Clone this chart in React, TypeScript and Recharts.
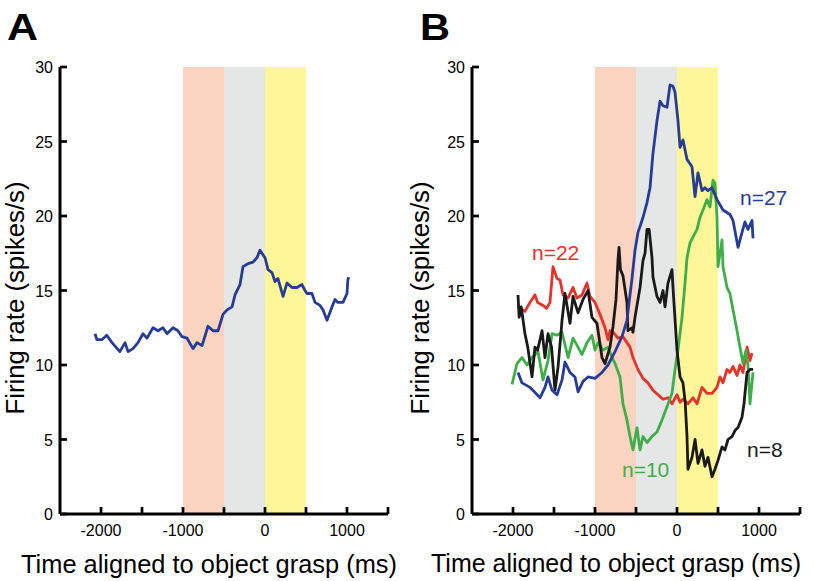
import React from 'react'
import { LineChart, Line, XAxis, YAxis, ReferenceArea, ReferenceLine } from 'recharts'

const FONT = '"Liberation Sans", Arial, Helvetica, sans-serif'

const X_TICKS = [-2000, -1500, -1000, -500, 0, 500, 1000, 1500]
const Y_TICKS = [0, 5, 10, 15, 20, 25, 30]

// epochs shaded behind the traces: [from, to, colour]
const EPOCHS: [number, number, string][] = [
  [-1000, -500, '#fbd3c1'],
  [-500, 0, '#e5e6e6'],
  [0, 500, '#fff69a'],
]

// [time ms, firing rate spikes/s]
const panelA: [number, number][] = [
  [-2073, 12.1], [-2050, 11.7], [-1990, 11.7], [-1930, 12.0], [-1866, 11.5], [-1770, 10.9],
  [-1707, 11.5], [-1670, 10.9], [-1610, 11.1], [-1549, 11.5], [-1488, 12.1], [-1440, 11.8],
  [-1366, 12.5], [-1305, 12.3], [-1244, 12.5], [-1195, 12.1], [-1122, 12.5], [-1061, 12.3],
  [-1012, 11.9], [-951, 11.8], [-878, 11.1], [-829, 11.5], [-768, 11.3], [-695, 12.6],
  [-634, 12.3], [-573, 12.3], [-512, 13.4], [-463, 13.7], [-402, 13.9], [-366, 14.7],
  [-305, 15.4], [-268, 16.6], [-207, 16.8], [-146, 16.9], [-98, 17.2], [-61, 17.7],
  [-37, 17.5], [0, 17.2], [37, 16.4], [85, 16.2], [122, 15.6], [158, 15.8], [220, 14.6],
  [268, 15.5], [329, 15.2], [390, 15.2], [451, 15.4], [488, 15.0], [512, 14.8], [573, 14.8],
  [610, 14.2], [671, 14.0], [707, 13.7], [756, 13.0], [817, 13.9], [854, 14.4], [890, 14.2],
  [951, 14.2], [1000, 14.8], [1010, 15.7], [1020, 15.9],
]

const blueB: [number, number][] = [
  [-1939, 9.5], [-1890, 8.8], [-1793, 8.5], [-1740, 8.2], [-1671, 7.8], [-1610, 8.5],
  [-1573, 9.2], [-1524, 8.3], [-1463, 8.0], [-1402, 9.0], [-1366, 10.2], [-1305, 9.5],
  [-1244, 9.2], [-1207, 8.2], [-1146, 8.9], [-1085, 9.2], [-1000, 9.1], [-915, 9.5],
  [-841, 10.0], [-756, 10.9], [-671, 11.9], [-610, 13.0], [-580, 14.4], [-549, 15.8],
  [-512, 17.7], [-476, 18.9], [-451, 19.3], [-415, 19.9], [-366, 20.9], [-329, 21.9],
  [-293, 24.2], [-244, 26.4], [-207, 27.7], [-171, 27.4], [-122, 27.3], [-85, 28.8],
  [-49, 28.7], [-24, 28.3], [12, 26.4], [37, 24.6], [73, 25.1], [122, 23.8], [183, 23.3],
  [220, 21.3], [256, 22.9], [305, 21.7], [341, 21.9], [378, 21.7], [427, 21.9], [488, 21.1],
  [561, 20.4], [646, 20.1], [683, 19.7], [744, 17.9], [793, 18.9], [829, 19.6], [866, 19.1],
  [915, 19.7], [927, 18.5],
]

const redB: [number, number][] = [
  [-1939, 14.0], [-1915, 13.6], [-1880, 13.7], [-1854, 13.6], [-1793, 14.2], [-1732, 14.7],
  [-1700, 14.2], [-1634, 14.0], [-1590, 13.8], [-1549, 14.2], [-1512, 16.6], [-1463, 15.8],
  [-1427, 15.7], [-1390, 14.7], [-1329, 14.5], [-1268, 15.2], [-1220, 14.5], [-1159, 14.7],
  [-1098, 15.5], [-1061, 14.6], [-1000, 14.2], [-939, 13.4], [-878, 12.5], [-841, 11.7],
  [-817, 12.3], [-780, 12.2], [-720, 11.8], [-659, 11.9], [-573, 11.2], [-537, 10.5],
  [-476, 9.7], [-415, 9.1], [-354, 8.8], [-293, 8.3], [-232, 8.0], [-171, 7.7], [-110, 7.8],
  [-61, 7.4], [0, 8.0], [37, 7.5], [73, 7.7], [134, 7.4], [195, 7.8], [244, 7.4], [305, 8.5],
  [366, 8.1], [427, 8.1], [488, 8.5], [524, 9.2], [561, 8.8], [610, 9.7], [646, 9.5],
  [683, 9.9], [732, 9.3], [768, 10.0], [805, 9.5], [854, 11.2], [890, 10.3], [915, 10.8],
]

const greenB: [number, number][] = [
  [-2012, 8.7], [-1951, 10.1], [-1890, 10.5], [-1829, 10.0], [-1768, 10.5], [-1695, 10.9],
  [-1634, 9.0], [-1573, 10.3], [-1524, 12.1], [-1463, 12.0], [-1402, 12.2], [-1329, 10.5],
  [-1268, 11.8], [-1207, 11.2], [-1159, 10.7], [-1098, 11.5], [-1037, 12.0], [-1000, 11.0],
  [-963, 11.5], [-902, 11.0], [-841, 11.2], [-793, 10.5], [-756, 10.1], [-695, 9.2],
  [-659, 7.4], [-610, 6.3], [-573, 5.2], [-537, 4.3], [-488, 5.8], [-451, 4.3], [-415, 5.2],
  [-366, 4.8], [-305, 5.2], [-244, 5.5], [-183, 6.3], [-122, 7.2], [-61, 8.1], [-24, 9.7],
  [12, 11.0], [61, 13.2], [98, 15.5], [122, 17.2], [159, 18.2], [195, 18.6], [244, 19.1],
  [280, 19.9], [317, 20.4], [366, 21.1], [402, 20.6], [439, 22.4], [463, 22.2], [488, 19.9],
  [500, 16.6], [549, 18.4], [561, 16.6], [610, 15.2], [646, 14.8], [683, 13.7], [732, 12.3],
  [768, 11.2], [805, 10.1], [841, 11.0], [866, 9.9], [890, 7.4], [927, 9.5],
]

const blackB: [number, number][] = [
  [-1939, 14.7], [-1925, 13.2], [-1900, 13.9], [-1854, 12.1], [-1820, 11.2], [-1768, 9.2],
  [-1732, 11.2], [-1700, 11.0], [-1646, 12.3], [-1610, 10.5], [-1573, 12.1], [-1530, 11.2],
  [-1488, 8.3], [-1450, 9.9], [-1402, 13.0], [-1366, 14.8], [-1305, 12.8], [-1268, 14.6],
  [-1207, 13.5], [-1146, 14.4], [-1085, 15.0], [-1037, 13.2], [-976, 12.8], [-915, 10.5],
  [-878, 10.1], [-817, 11.2], [-780, 12.6], [-744, 14.4], [-720, 17.0], [-707, 17.9],
  [-690, 16.4], [-659, 16.0], [-610, 14.2], [-598, 12.3], [-549, 12.5], [-537, 12.2],
  [-512, 13.2], [-451, 15.2], [-415, 17.0], [-390, 17.5], [-366, 19.1], [-340, 19.1],
  [-305, 17.2], [-293, 15.9], [-244, 14.6], [-207, 14.2], [-171, 15.0], [-146, 13.9],
  [-110, 15.5], [-61, 16.4], [-49, 15.2], [0, 11.0], [37, 9.2], [73, 8.8], [100, 7.5],
  [122, 5.2], [134, 3.0], [183, 3.8], [220, 5.0], [256, 3.4], [305, 4.3], [341, 3.2],
  [378, 3.8], [427, 2.5], [463, 3.0], [500, 3.6], [549, 4.5], [585, 4.3], [622, 5.0],
  [671, 5.2], [707, 5.6], [744, 5.8], [793, 6.5], [817, 7.4], [854, 9.5], [890, 9.7],
  [927, 9.7],
]

const toRows = (pts: [number, number][]) => pts.map(([t, r]) => ({ t, r }))

// ticks point inward from the axis; tickSize/tickMargin are 0 so x/y sit on the axis line
const XTick = ({ x, y, payload }: any) => {
  const v = payload.value
  return (
    <g>
      <line x1={x} x2={x} y1={y} y2={y - 7} stroke="#000" strokeWidth={2.7} />
      {v % 1000 === 0 && v !== 1500 ? (
        <text x={x} y={y + 22} textAnchor="middle" fontSize={16} fontFamily={FONT} fill="#000">{v}</text>
      ) : null}
    </g>
  )
}

const YTick = ({ x, y, payload }: any) => (
  <g>
    <line x1={x} x2={x + 7} y1={y} y2={y} stroke="#000" strokeWidth={2.7} />
    <text x={x - 7} y={y + 6} textAnchor="end" fontSize={16} fontFamily={FONT} fill="#000">{payload.value}</text>
  </g>
)

function Panel({ series, yAxisWidth, right }: {
  series: { pts: [number, number][]; color: string }[]
  yAxisWidth: number
  right: number
}) {
  return (
    <LineChart width={yAxisWidth + 328 + right} height={581} margin={{ top: 67, right, bottom: 27, left: 0 }}>
      {EPOCHS.map(([x1, x2, c]) => (
        <ReferenceArea key={x1} x1={x1} x2={x2} y1={0} y2={30} fill={c} fillOpacity={1} stroke="none" />
      ))}
      {series.map((s, i) => (
        <Line
          key={i}
          data={toRows(s.pts)}
          dataKey="r"
          type="linear"
          stroke={s.color}
          strokeWidth={2.8}
          strokeLinejoin="round"
          dot={false}
          isAnimationActive={false}
        />
      ))}
      <ReferenceLine y={0} stroke="#000" strokeWidth={3} />
      <ReferenceLine x={-2500} stroke="#000" strokeWidth={3} />
      <XAxis
        type="number"
        dataKey="t"
        domain={[-2500, 1500]}
        ticks={X_TICKS}
        interval={0}
        height={40}
        axisLine={false}
        tickLine={false}
        tickSize={0}
        tickMargin={0}
        tick={<XTick />}
      />
      <YAxis
        type="number"
        domain={[0, 30]}
        ticks={Y_TICKS}
        interval={0}
        width={yAxisWidth}
        axisLine={false}
        tickLine={false}
        tickSize={0}
        tickMargin={0}
        tick={<YTick />}
      />
    </LineChart>
  )
}

export default function App() {
  const text = { fontFamily: FONT, fill: '#000' }
  return (
    <div style={{ position: 'fixed', left: 0, top: 0, width: 815, height: 581, background: '#fff' }}>
      <div style={{ position: 'absolute', left: 0, top: 0 }}>
        <Panel yAxisWidth={60} right={22} series={[{ pts: panelA, color: '#263c97' }]} />
      </div>
      <div style={{ position: 'absolute', left: 410, top: 0 }}>
        <Panel
          yAxisWidth={62}
          right={15}
          series={[
            { pts: redB, color: '#e6332a' },
            { pts: greenB, color: '#3fae49' },
            { pts: blackB, color: '#1a1a1a' },
            { pts: blueB, color: '#263c97' },
          ]}
        />
      </div>
      <svg width={815} height={581} style={{ position: 'absolute', left: 0, top: 0, pointerEvents: 'none' }}>
        <text x={7} y={40} fontSize={36} fontWeight="bold" textLength={31} lengthAdjust="spacingAndGlyphs" {...text}>A</text>
        <text x={420} y={40} fontSize={36} fontWeight="bold" textLength={30} lengthAdjust="spacingAndGlyphs" {...text}>B</text>
        <text transform="translate(24,298) rotate(-90)" textAnchor="middle" fontSize={26} textLength={233} lengthAdjust="spacingAndGlyphs" {...text}>Firing rate (spikes/s)</text>
        <text transform="translate(429,298) rotate(-90)" textAnchor="middle" fontSize={26} textLength={233} lengthAdjust="spacingAndGlyphs" {...text}>Firing rate (spikes/s)</text>
        <text x={209} y={573} textAnchor="middle" fontSize={26} textLength={376} lengthAdjust="spacingAndGlyphs" {...text}>Time aligned to object grasp (ms)</text>
        <text x={616} y={572} textAnchor="middle" fontSize={25} textLength={370} lengthAdjust="spacingAndGlyphs" {...text}>Time aligned to object grasp (ms)</text>
        <text x={740} y={205} fontSize={21} fontFamily={FONT} fill="#263c97">n=27</text>
        <text x={532} y={260} fontSize={21} fontFamily={FONT} fill="#e6332a">n=22</text>
        <text x={622} y={477} fontSize={21} fontFamily={FONT} fill="#3fae49">n=10</text>
        <text x={747} y={457} fontSize={21} fontFamily={FONT} fill="#1a1a1a">n=8</text>
      </svg>
    </div>
  )
}
